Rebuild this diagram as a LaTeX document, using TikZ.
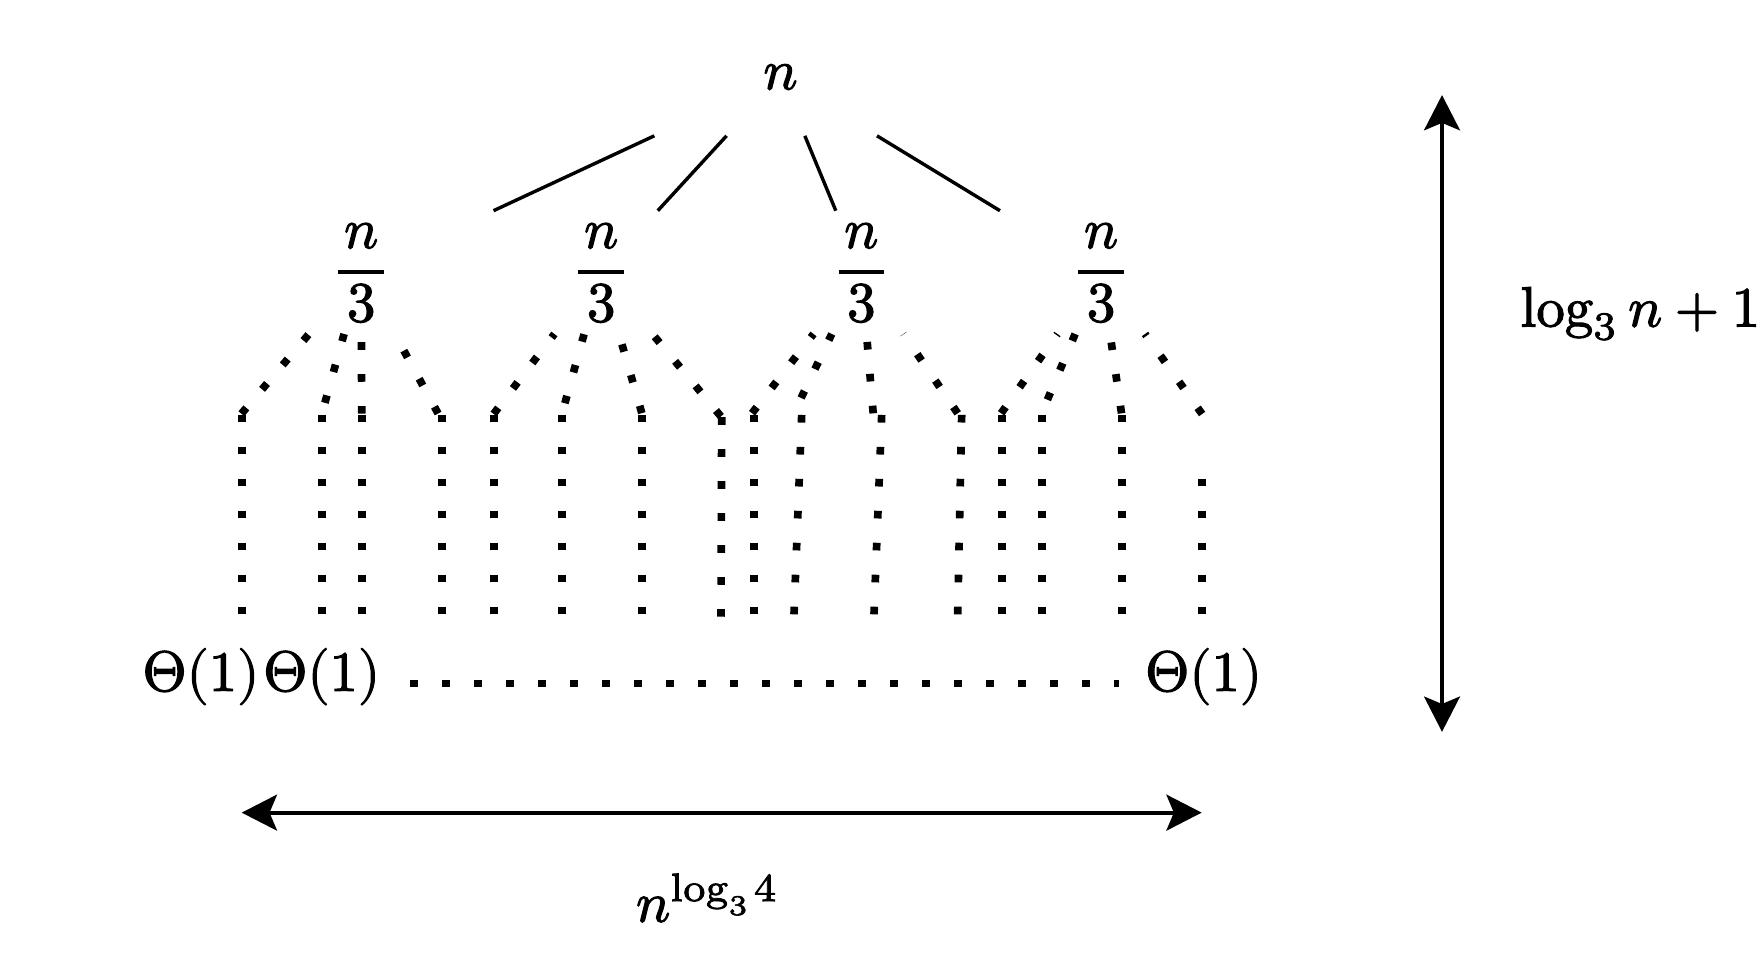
\documentclass[tikz,border=0pt]{standalone}
\usepackage{unicode-math}
\setmainfont{Latin Modern Roman}[FakeBold=2]
\setmathfont{Latin Modern Math}[FakeBold=2]
\usetikzlibrary{arrows.meta}
\newcommand{\nthird}{$\displaystyle{\kern1pt n\kern1pt\above0.7pt\raisebox{0.7pt}[6.44pt]{$3$}}$}
\begin{document}
\begin{tikzpicture}[x=0.17606pt,y=-0.17606pt]
\tikzset{
 treeedge/.style={line width=0.6pt},
 dotline/.style={line width=1.35pt, dash pattern=on 1.35pt off 4.28pt},
 arr/.style={line width=0.75pt, {Stealth[length=6.2pt,width=6.3pt,inset=1.3pt]}-{Stealth[length=6.2pt,width=6.3pt,inset=1.3pt]}},
 rootnode/.style={minimum width=46pt, minimum height=20.3pt, inner sep=0pt},
 childnode/.style={minimum width=50pt, minimum height=21.3pt, inner sep=0pt, text height=11.58pt, text depth=6.58pt},
 leaflabel/.style={inner sep=0.333pt, anchor=base},
 sidelabel/.style={inner sep=0pt, anchor=base west},
}
\useasboundingbox (0,0) rectangle (1760,968);
% root and children
\node[rootnode] (r) at (780.5,77) {$n$};
\node[childnode] (c1) at (361.2,272.3) {\nthird};
\node[childnode] (c2) at (601.2,272.3) {\nthird};
\node[childnode] (c3) at (861.3,272.3) {\nthird};
\node[childnode] (c4) at (1101.1,272.3) {\nthird};
\foreach \c in {c1,c2,c3,c4} \draw[treeedge] (r) -- (\c);
% grandchild points (end of dotted diagonals)
\coordinate (d1) at (241.4,413.7);
\coordinate (d2) at (324.9,402.8);
\coordinate (d3) at (361.7,413.7);
\coordinate (d4) at (438.1,413.5);
\coordinate (d5) at (493.6,413.9);
\coordinate (d6) at (564.9,403.2);
\coordinate (d7) at (641.8,413.1);
\coordinate (d8) at (720.9,416.4);
\coordinate (d9) at (752,413.2);
\coordinate (d10) at (801.1,397.9);
\coordinate (d11) at (873.2,413.3);
\coordinate (d12) at (957.7,413.3);
\coordinate (d13) at (1001.1,413.3);
\coordinate (d14) at (1047.4,399.7);
\coordinate (d15) at (1121.5,413.3);
\coordinate (d16) at (1202.1,414);
\foreach \i in {1,2,3,4} \draw[dotline] (d\i) -- (c1);
\foreach \i in {5,6,7,8} \draw[dotline] (d\i) -- (c2);
\foreach \i in {9,10,11,12} \draw[dotline] (d\i) -- (c3);
\foreach \i in {13,14,15,16} \draw[dotline] (d\i) -- (c4);
% vertical dotted lines: bottom b, top v
\foreach \i/\xb/\xt/\yb/\yt in {1/241.7/241.7/614.3/414.3, 2/321.7/321.7/614.3/414.3,
  3/361.7/361.7/614.3/414.3, 4/441.7/441.7/614.3/414.3, 5/494/494/614.3/414.3,
  6/561.7/561.7/614.3/414.3, 7/641.7/641.7/614.3/414.3, 8/721/721.7/616.7/416.7,
  9/754/754/614.3/414.3, 10/794/801.7/614.3/414.3, 11/874/881.7/614.3/414.3,
  12/957.7/961.7/614.3/414.3, 13/1002/1002/614.3/414.3, 14/1041.7/1041.7/614.3/414.3,
  15/1121.7/1121.7/614.3/414.3, 16/1201.7/1201.7/614.3/478} {
  \coordinate (b\i) at (\xb,\yb);
  \coordinate (v\i) at (\xt,\yt);
  \draw[dotline] (b\i) -- (v\i);
}
% leaf labels
\node[leaflabel] (t2) at (321.7,690.8) {$\Theta(1)$};
\node[leaflabel] (t1) at (200.9,690.8) {$\Theta(1)$};
\node[leaflabel] (t3) at (1203.6,690.8) {$\Theta(1)$};
\draw[dotline] ([shift={(4.8pt,1.32pt)}]t2.base east) -- ([shift={(-4pt,1.32pt)}]t3.base west);
% arrows
\coordinate (ha) at (241.7,812.6);
\coordinate (hb) at (1201.7,812.6);
\draw[arr] (ha) -- (hb);
\node[sidelabel] (wlab) at (635,921.7) {$n^{\log_3\mkern-1.5mu 4}$};
\coordinate (va) at (1442,95);
\coordinate (vb) at (1442,731.8);
\draw[arr] (va) -- (vb);
\node[sidelabel] (hlab) at (1519.5,326.5) {$\mathop{\mathrm{log}\raisebox{-2.3pt}{$\scriptstyle 3$}\kern0.5pt} n + 1$};
\end{tikzpicture}
\end{document}
